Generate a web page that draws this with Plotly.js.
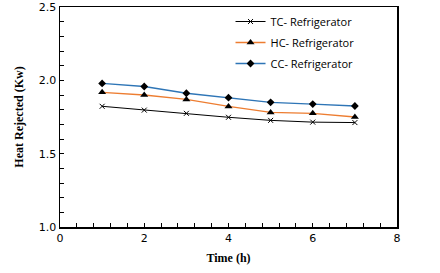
<!DOCTYPE html>
<html><head><meta charset="utf-8">
<script src="https://cdn.plot.ly/plotly-3.0.1.min.js"></script>
<style>html,body{margin:0;padding:0;background:#fff}#chart{width:440px;height:273px}</style>
</head><body><div id="chart"></div>
<script>
const time = [1, 2, 3, 4, 5, 6, 7];
const tcRefrigerator = [1.823, 1.797, 1.775, 1.748, 1.727, 1.715, 1.712];
const hcRefrigerator = [1.918, 1.900, 1.870, 1.822, 1.781, 1.775, 1.750];
const ccRefrigerator = [1.979, 1.958, 1.912, 1.882, 1.850, 1.838, 1.825];
const seriesNames = ['TC- Refrigerator', 'HC- Refrigerator', 'CC- Refrigerator'];

const traces = [
  {x: time, y: tcRefrigerator, name: seriesNames[0], legendgroup: 'a', mode: 'lines+markers',
   line: {color: '#000000', width: 1}, marker: {symbol: 'x-thin', size: 5, color: '#000', line: {color: '#000', width: 1}}},
  {x: time, y: hcRefrigerator, name: seriesNames[1], legendgroup: 'b', mode: 'lines+markers',
   line: {color: '#ED7D31', width: 1.3}, marker: {symbol: 'triangle-up', size: 7, color: '#000'}},
  {x: time, y: ccRefrigerator, name: seriesNames[2], legendgroup: 'c', mode: 'lines+markers',
   line: {color: '#2E75B6', width: 1.3}, marker: {symbol: 'diamond', size: 6, color: '#000'}}
];

const layout = {
  width: 440, height: 273,
  margin: {l: 60, r: 43, t: 7, b: 46},
  paper_bgcolor: '#fff', plot_bgcolor: '#fff',
  showlegend: true,
  legend: {x: 0.506, y: 1.0, xanchor: 'left', yanchor: 'top', bgcolor: 'rgba(0,0,0,0)',
    font: {family: 'Open Sans, Liberation Sans', size: 11, color: '#000'}, tracegroupgap: 2, itemwidth: 30},
  xaxis: {range: [0, 8], dtick: 2, tick0: 0, ticks: 'inside', ticklen: 4, tickcolor: '#000',
    showline: true, linecolor: '#000', linewidth: 1.5, mirror: true, showgrid: false, zeroline: false,
    minor: {dtick: 0.4, ticks: 'inside', ticklen: 4, tickcolor: '#000'},
    tickfont: {family: 'DejaVu Sans', size: 11, color: '#000'},
    title: {text: 'Time (h)', font: {family: 'Liberation Serif', size: 12, color: '#000', weight: 'bold'}, standoff: 10}},
  yaxis: {range: [1.0, 2.5], dtick: 0.5, tick0: 1, tickformat: '.1f', ticks: 'inside', ticklen: 4, tickcolor: '#000',
    showline: true, linecolor: '#000', linewidth: 1.5, mirror: true, showgrid: false, zeroline: false,
    minor: {dtick: 0.1, ticks: 'inside', ticklen: 4, tickcolor: '#000'},
    tickfont: {family: 'DejaVu Sans', size: 11, color: '#000'},
    title: {text: 'Heat Rejected (Kw)', font: {family: 'Liberation Serif', size: 12, color: '#000', weight: 'bold'}, standoff: 12}}
};
Plotly.newPlot('chart', traces, layout, {displayModeBar: false, staticPlot: true});
</script></body></html>
